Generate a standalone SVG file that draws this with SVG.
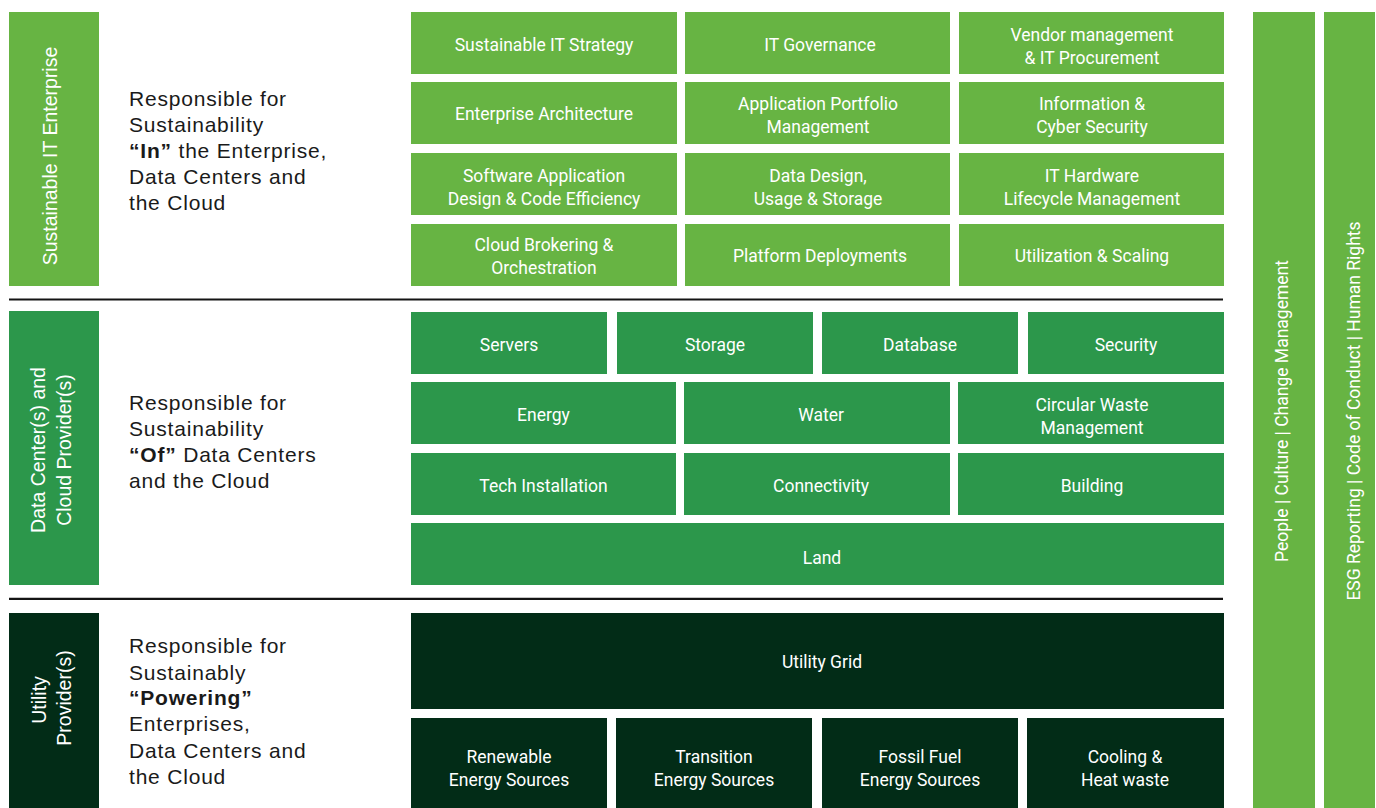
<svg xmlns="http://www.w3.org/2000/svg" width="1376" height="808" viewBox="0 0 1376 808">
<style>
.l1{fill:#67b443}.l2{fill:#2c974b}.l3{fill:#022c17}
.bt{font-family:Roboto,"Liberation Sans",sans-serif;font-size:17.5px;fill:#fff;text-anchor:middle}
.rt{font-family:Roboto,"Liberation Sans",sans-serif;font-size:17.5px;fill:#fff;text-anchor:middle}
.vt{font-family:"Liberation Sans",Arial,sans-serif;font-size:19.5px;fill:#fff;text-anchor:middle}
.dt{font-family:"Liberation Sans",Arial,sans-serif;font-size:21px;fill:#1a1a1a;letter-spacing:0.8px}
.b{font-weight:bold}
.sep{stroke:#141414;stroke-width:2.2;fill:none}
</style>
<rect width="1376" height="808" fill="#fff"/>

<!-- Section 1 -->
<g id="sec1-label">
<rect class="l1" x="9" y="12" width="90" height="274"/>
<text class="vt" transform="translate(57,156) rotate(-90)">Sustainable IT Enterprise</text>
</g>
<g id="sec1-desc">
<text class="dt" x="129" y="106">Responsible for</text>
<text class="dt" x="129" y="132">Sustainability</text>
<text class="dt" x="129" y="158"><tspan class="b">“In”</tspan> the Enterprise,</text>
<text class="dt" x="129" y="184">Data Centers and</text>
<text class="dt" x="129" y="210">the Cloud</text>
</g>
<g id="n-strategy"><rect class="l1" x="411" y="12" width="266" height="62"/><text class="bt" x="544" y="51">Sustainable IT Strategy</text></g>
<g id="n-governance"><rect class="l1" x="685" y="12" width="265" height="62"/><text class="bt" x="820" y="51">IT Governance</text></g>
<g id="n-vendor"><rect class="l1" x="959" y="12" width="265" height="62"/><text class="bt" x="1092" y="41">Vendor management</text><text class="bt" x="1092" y="64">&amp; IT Procurement</text></g>
<g id="n-ea"><rect class="l1" x="411" y="82" width="266" height="62"/><text class="bt" x="544" y="120">Enterprise Architecture</text></g>
<g id="n-apm"><rect class="l1" x="685" y="82" width="265" height="62"/><text class="bt" x="818" y="110">Application Portfolio</text><text class="bt" x="818" y="133">Management</text></g>
<g id="n-infosec"><rect class="l1" x="959" y="82" width="265" height="62"/><text class="bt" x="1092" y="110">Information &amp;</text><text class="bt" x="1092" y="133">Cyber Security</text></g>
<g id="n-software"><rect class="l1" x="411" y="153" width="266" height="62"/><text class="bt" x="544" y="182">Software Application</text><text class="bt" x="544" y="205">Design &amp; Code Efficiency</text></g>
<g id="n-data"><rect class="l1" x="685" y="153" width="265" height="62"/><text class="bt" x="818" y="182">Data Design,</text><text class="bt" x="818" y="205">Usage &amp; Storage</text></g>
<g id="n-hardware"><rect class="l1" x="959" y="153" width="265" height="62"/><text class="bt" x="1092" y="182">IT Hardware</text><text class="bt" x="1092" y="205">Lifecycle Management</text></g>
<g id="n-cloud"><rect class="l1" x="411" y="224" width="266" height="62"/><text class="bt" x="544" y="251">Cloud Brokering &amp;</text><text class="bt" x="544" y="274">Orchestration</text></g>
<g id="n-platform"><rect class="l1" x="685" y="224" width="265" height="62"/><text class="bt" x="820" y="262">Platform Deployments</text></g>
<g id="n-util"><rect class="l1" x="959" y="224" width="265" height="62"/><text class="bt" x="1092" y="262">Utilization &amp; Scaling</text></g>

<!-- Section 2 -->
<g id="sec2-label">
<rect class="l2" x="9" y="311" width="90" height="274"/>
<text class="vt" transform="translate(45,450) rotate(-90)">Data Center(s) and</text>
<text class="vt" transform="translate(71,450) rotate(-90)">Cloud Provider(s)</text>
</g>
<g id="sec2-desc">
<text class="dt" x="129" y="409.5">Responsible for</text>
<text class="dt" x="129" y="435.5">Sustainability</text>
<text class="dt" x="129" y="462"><tspan class="b">“Of”</tspan> Data Centers</text>
<text class="dt" x="129" y="488">and the Cloud</text>
</g>
<g id="n-servers"><rect class="l2" x="411" y="312" width="196" height="62"/><text class="bt" x="509" y="351">Servers</text></g>
<g id="n-storage"><rect class="l2" x="617" y="312" width="196" height="62"/><text class="bt" x="715" y="351">Storage</text></g>
<g id="n-database"><rect class="l2" x="822" y="312" width="196" height="62"/><text class="bt" x="920" y="351">Database</text></g>
<g id="n-security"><rect class="l2" x="1028" y="312" width="196" height="62"/><text class="bt" x="1126" y="351">Security</text></g>
<g id="n-energy"><rect class="l2" x="411" y="382" width="265" height="62"/><text class="bt" x="543.5" y="421">Energy</text></g>
<g id="n-water"><rect class="l2" x="684" y="382" width="266" height="62"/><text class="bt" x="821" y="421">Water</text></g>
<g id="n-waste"><rect class="l2" x="958" y="382" width="266" height="62"/><text class="bt" x="1092" y="411">Circular Waste</text><text class="bt" x="1092" y="434">Management</text></g>
<g id="n-tech"><rect class="l2" x="411" y="453" width="265" height="62"/><text class="bt" x="543.5" y="492">Tech Installation</text></g>
<g id="n-conn"><rect class="l2" x="684" y="453" width="266" height="62"/><text class="bt" x="821" y="492">Connectivity</text></g>
<g id="n-building"><rect class="l2" x="958" y="453" width="266" height="62"/><text class="bt" x="1092" y="492">Building</text></g>
<g id="n-land"><rect class="l2" x="411" y="523" width="813" height="62"/><text class="bt" x="822" y="564">Land</text></g>

<!-- Section 3 -->
<g id="sec3-label">
<rect class="l3" x="9" y="613" width="90" height="195"/>
<text class="vt" transform="translate(46,700) rotate(-90)">Utility</text>
<text class="vt" transform="translate(71,698) rotate(-90)">Provider(s)</text>
</g>
<g id="sec3-desc">
<text class="dt" x="129" y="653">Responsible for</text>
<text class="dt" x="129" y="679.5">Sustainably</text>
<text class="dt b" x="129" y="705">“Powering”</text>
<text class="dt" x="129" y="731">Enterprises,</text>
<text class="dt" x="129" y="757.5">Data Centers and</text>
<text class="dt" x="129" y="784">the Cloud</text>
</g>
<g id="n-grid"><rect class="l3" x="411" y="613" width="813" height="96"/><text class="bt" x="822" y="668">Utility Grid</text></g>
<g id="n-renew"><rect class="l3" x="411" y="718" width="196" height="90"/><text class="bt" x="509" y="763">Renewable</text><text class="bt" x="509" y="786">Energy Sources</text></g>
<g id="n-trans"><rect class="l3" x="616" y="718" width="196" height="90"/><text class="bt" x="714" y="763">Transition</text><text class="bt" x="714" y="786">Energy Sources</text></g>
<g id="n-fossil"><rect class="l3" x="822" y="718" width="196" height="90"/><text class="bt" x="920" y="763">Fossil Fuel</text><text class="bt" x="920" y="786">Energy Sources</text></g>
<g id="n-cooling"><rect class="l3" x="1027" y="718" width="197" height="90"/><text class="bt" x="1125" y="763">Cooling &amp;</text><text class="bt" x="1125" y="786">Heat waste</text></g>

<!-- Right bars -->
<g id="bar-people">
<rect class="l1" x="1253" y="12" width="62" height="796"/>
<text class="rt" transform="translate(1288,411) rotate(-90)">People | Culture | Change Management</text>
</g>
<g id="bar-esg">
<rect class="l1" x="1324" y="12" width="51" height="796"/>
<text class="rt" transform="translate(1360,411) rotate(-90)">ESG Reporting | Code of Conduct | Human Rights</text>
</g>

<!-- Separators -->
<g id="connectors">
<line class="sep" x1="9" y1="299.5" x2="1223" y2="299.5"/>
<line class="sep" x1="9" y1="598.8" x2="1223" y2="598.8"/>
</g>
</svg>
